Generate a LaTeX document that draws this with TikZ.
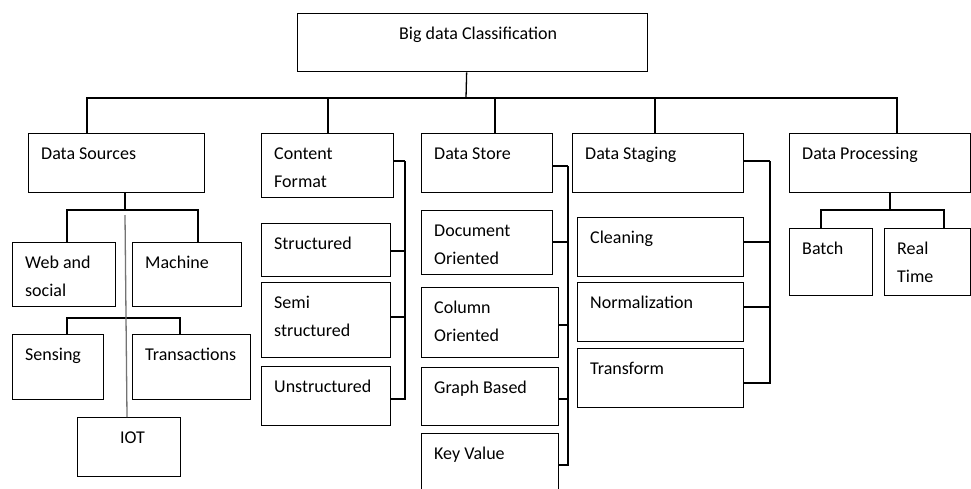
\documentclass[tikz,border=0pt]{standalone}
\usepackage{fontspec}
\setmainfont{Carlito}
\tikzstyle{chart} = [x = 1pt, y = -1pt]
\tikzstyle{boxStyle} = [draw=black, line width=1.3pt, rectangle, inner sep=0pt, anchor=north west]
\tikzstyle{boxText} = [font=\fontsize{18}{28}\selectfont, align=left, anchor=north west, inner sep=0pt]
\tikzstyle{linkLine} = [color=black, line width=1.3pt]
\tikzstyle{iotLine} = [color=black!55, line width=1.3pt]
% box: [text inset]{name}{left}{top}{width}{height}{text}
\newcommand{\classBox}[7][13]{
  \node [boxStyle, minimum width=#5pt, minimum height=#6pt] (#2) at (#3, #4) {};
  \node [boxText] (#2Text) at ([xshift=#1, yshift=-6.4]#2.north west) {\strut #7};
}

\begin{document}
\begin{tikzpicture}[chart]
  \useasboundingbox (0, 0) rectangle (971, 488);
  \classBox[102]{bigData}{297}{13}{350}{58}{Big data Classification}
  % data sources
  \classBox{dataSources}{28}{133}{176}{59}{Data Sources}
  \classBox{webSocial}{12}{242}{103}{64}{Web and\\social}
  \classBox{machine}{132}{242}{109}{64}{Machine}
  \classBox{sensing}{12}{334}{91}{65}{Sensing}
  \classBox{transactions}{132}{334}{118}{65}{Transactions}
  \classBox[43]{iot}{77}{417}{103}{59}{IOT}
  % content format
  \classBox{contentFormat}{261}{133}{132}{64}{Content\\Format}
  \classBox{structured}{261}{223}{129}{53}{Structured}
  \classBox{semiStructured}{261}{282}{129}{75}{Semi\\structured}
  \classBox{unstructured}{261}{366}{129}{59}{Unstructured}
  % data store
  \classBox{dataStore}{421}{133}{131}{59}{Data Store}
  \classBox{documentOriented}{421}{210}{131}{64}{Document\\Oriented}
  \classBox{columnOriented}{421}{287}{137}{70}{Column\\Oriented}
  \classBox{graphBased}{421}{367}{137}{58}{Graph Based}
  \classBox{keyValue}{421}{433}{137}{62}{Key Value}
  % data staging
  \classBox{dataStaging}{572}{133}{171}{59}{Data Staging}
  \classBox{cleaning}{577}{217}{166}{59}{Cleaning}
  \classBox{normalization}{577}{282}{166}{59}{Normalization}
  \classBox{transform}{577}{348}{166}{59}{Transform}
  % data processing
  \classBox{dataProcessing}{789}{133}{181}{59}{Data Processing}
  \classBox{batch}{789}{228}{83}{67}{Batch}
  \classBox{realTime}{884}{228}{86}{67}{Real\\Time}

  % main bus
  \coordinate (bus) at (466, 98);
  \draw [linkLine] ([xshift=-6]bigData.south) -- (bus);
  \foreach \branch/\dx in {dataSources/59, contentFormat/67, dataStore/74, dataStaging/83, dataProcessing/108}
    \draw [linkLine] ([xshift=\dx]\branch.north west) |- (bus);

  % forks under data sources
  \coordinate (sourceFork) at (125, 210);
  \draw [linkLine] (sourceFork |- dataSources.south) -- (sourceFork);
  \draw [linkLine] ([xshift=55]webSocial.north west) |- (sourceFork) -| ([xshift=66]machine.north west);
  \coordinate (sensingFork) at (125, 318);
  \draw [linkLine] ([xshift=55]sensing.north west) |- (sensingFork) -| ([xshift=48]transactions.north west);
  \draw [iotLine] ([yshift=-5]sourceFork) -- ([xshift=50]iot.north west);

  % side rails
  \coordinate (formatRail) at (405, 161);
  \foreach \item/\dy in {contentFormat/28, structured/28, semiStructured/35, unstructured/33}
    \draw [linkLine] ([yshift=-\dy]\item.north east) -| (formatRail);
  \coordinate (storeRail) at (568, 166);
  \foreach \item/\dy in {dataStore/33, documentOriented/32, columnOriented/38, graphBased/32, keyValue/32}
    \draw [linkLine] ([yshift=-\dy]\item.north east) -| (storeRail);
  \coordinate (stagingRail) at (770, 161);
  \foreach \item/\dy in {dataStaging/28, cleaning/25, normalization/25, transform/35}
    \draw [linkLine] ([yshift=-\dy]\item.north east) -| (stagingRail);

  % fork under data processing
  \coordinate (processFork) at (890, 210);
  \draw [linkLine] (processFork |- dataProcessing.south) -- (processFork);
  \draw [linkLine] ([xshift=32]batch.north west) |- (processFork) -| ([xshift=60]realTime.north west);
\end{tikzpicture}
\end{document}
